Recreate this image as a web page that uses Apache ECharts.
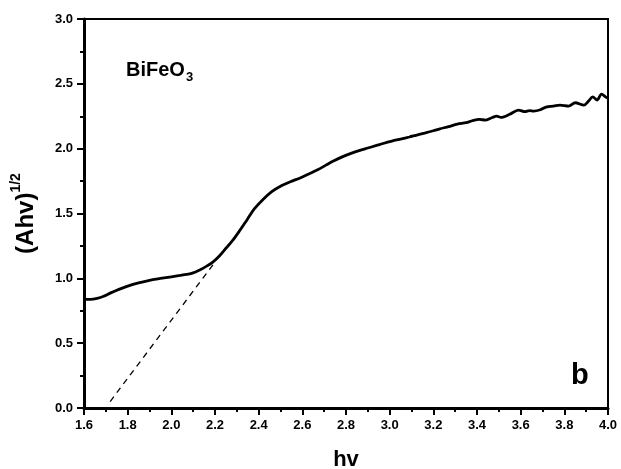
<!DOCTYPE html>
<html>
<head>
<meta charset="utf-8">
<script src="https://cdn.jsdelivr.net/npm/echarts@6/dist/echarts.min.js"></script>
<style>
  html, body { margin: 0; padding: 0; background: #fff; }
  #chart { width: 621px; height: 469px; }
</style>
</head>
<body>
<div id="chart"></div>
<script>
// Photon energy (eV) and the Tauc quantity (Ahv)^1/2
const hv = [
  1.60, 1.63, 1.66, 1.69, 1.72, 1.76, 1.80, 1.85, 1.90, 1.95, 2.00, 2.04, 2.07,
  2.10, 2.13, 2.16, 2.19, 2.22, 2.25, 2.28, 2.31, 2.35, 2.38, 2.42, 2.46, 2.50,
  2.55, 2.59, 2.63, 2.67, 2.71, 2.74, 2.78, 2.82, 2.86, 2.90, 2.94, 2.97, 3.01,
  3.05, 3.09, 3.12, 3.16, 3.20, 3.23, 3.27, 3.31, 3.35, 3.38, 3.41, 3.44, 3.47,
  3.49, 3.51, 3.55, 3.59, 3.62, 3.64, 3.66, 3.69, 3.72, 3.75, 3.78, 3.82, 3.85,
  3.89, 3.91, 3.93, 3.95, 3.97, 3.99, 4.00
];
const absorb = [
  0.838, 0.838, 0.846, 0.862, 0.886, 0.915, 0.940, 0.965, 0.985, 0.999, 1.012, 1.022, 1.030,
  1.042, 1.065, 1.092, 1.125, 1.172, 1.232, 1.290, 1.360, 1.460, 1.535, 1.608, 1.668, 1.710,
  1.748, 1.774, 1.805, 1.837, 1.875, 1.903, 1.935, 1.962, 1.985, 2.005, 2.025, 2.040, 2.058,
  2.074, 2.090, 2.103, 2.120, 2.138, 2.153, 2.170, 2.190, 2.200, 2.216, 2.226, 2.220, 2.240,
  2.251, 2.241, 2.265, 2.298, 2.285, 2.293, 2.290, 2.300, 2.323, 2.328, 2.336, 2.328, 2.354,
  2.336, 2.365, 2.400, 2.375, 2.421, 2.398, 2.388
];
// Linear extrapolation of the absorption edge to the energy axis
const fitX = [1.72, 2.20];
const fitY = [0.05, 1.125];

// Axis ticks
const xTicks = ['1.6', '1.8', '2.0', '2.2', '2.4', '2.6', '2.8', '3.0', '3.2', '3.4', '3.6', '3.8', '4.0'];
const yTicks = ['0.0', '0.5', '1.0', '1.5', '2.0', '2.5', '3.0'];

const FONT = 'Liberation Sans, Arial, sans-serif';
const chart = echarts.init(document.getElementById('chart'));

const tickLabel = { color: '#000', fontFamily: FONT, fontWeight: 'bold', fontSize: 13 };

chart.setOption({
  animation: false,
  backgroundColor: '#fff',
  grid: {
    left: 84, right: 13, top: 19, bottom: 61,
    containLabel: false, outerBoundsMode: 'none',
    show: true, borderColor: '#000', borderWidth: 2, backgroundColor: 'transparent'
  },
  xAxis: {
    type: 'value',
    min: 1.6, max: 4.0, interval: 0.2,
    name: 'hv',
    nameLocation: 'middle', nameGap: 41,
    nameTextStyle: { color: '#000', fontFamily: FONT, fontWeight: 'bold', fontSize: 22 },
    axisLine: { show: true, onZero: false, lineStyle: { color: '#000', width: 3 } },
    axisTick: { show: true, inside: false, length: 7, lineStyle: { color: '#000', width: 2 } },
    minorTick: { show: true, splitNumber: 2, length: 4, lineStyle: { color: '#000', width: 2 } },
    splitLine: { show: false },
    axisLabel: Object.assign({ margin: 11, formatter: v => xTicks.find(t => Math.abs(parseFloat(t) - v) < 1e-6) || '' }, tickLabel)
  },
  yAxis: {
    type: 'value',
    min: 0, max: 3.0, interval: 0.5,
    name: '{m|(Ahv)}{s|1/2}',
    nameLocation: 'middle', nameGap: 46, nameRotate: 90,
    nameTextStyle: {
      rich: {
        m: { color: '#000', fontFamily: FONT, fontWeight: 'bold', fontSize: 24, verticalAlign: 'bottom' },
        s: { color: '#000', fontFamily: FONT, fontWeight: 'bold', fontSize: 14, verticalAlign: 'top', padding: [0, 0, 15, 0] }
      }
    },
    axisLine: { show: true, onZero: false, lineStyle: { color: '#000', width: 3 } },
    axisTick: { show: true, inside: false, length: 7, lineStyle: { color: '#000', width: 2 } },
    minorTick: { show: true, splitNumber: 2, length: 4, lineStyle: { color: '#000', width: 2 } },
    splitLine: { show: false },
    axisLabel: Object.assign({ margin: 11, formatter: v => yTicks.find(t => Math.abs(parseFloat(t) - v) < 1e-6) || '' }, tickLabel)
  },
  series: [
    {
      type: 'line',
      data: hv.map((x, i) => [x, absorb[i]]),
      showSymbol: false,
      smooth: 0.3,
      lineStyle: { color: '#000', width: 2.8 },
      z: 3
    },
    {
      type: 'line',
      data: fitX.map((x, i) => [x, fitY[i]]),
      showSymbol: false,
      lineStyle: { color: '#000', width: 1.3, type: [6, 5] },
      z: 2
    }
  ],
  graphic: [
    {
      type: 'text', left: 126, top: 60,
      style: {
        text: '{m|BiFeO}{s|3}',
        rich: {
          m: { fontFamily: FONT, fontWeight: 'bold', fontSize: 20, fill: '#000' },
          s: { fontFamily: FONT, fontWeight: 'bold', fontSize: 13, fill: '#000', padding: [14, 0, 0, 1] }
        }
      }
    },
    {
      type: 'text', left: 571, top: 361,
      style: { text: 'b', fontFamily: FONT, fontWeight: 'bold', fontSize: 29, fill: '#000' }
    }
  ]
});
</script>
</body>
</html>
